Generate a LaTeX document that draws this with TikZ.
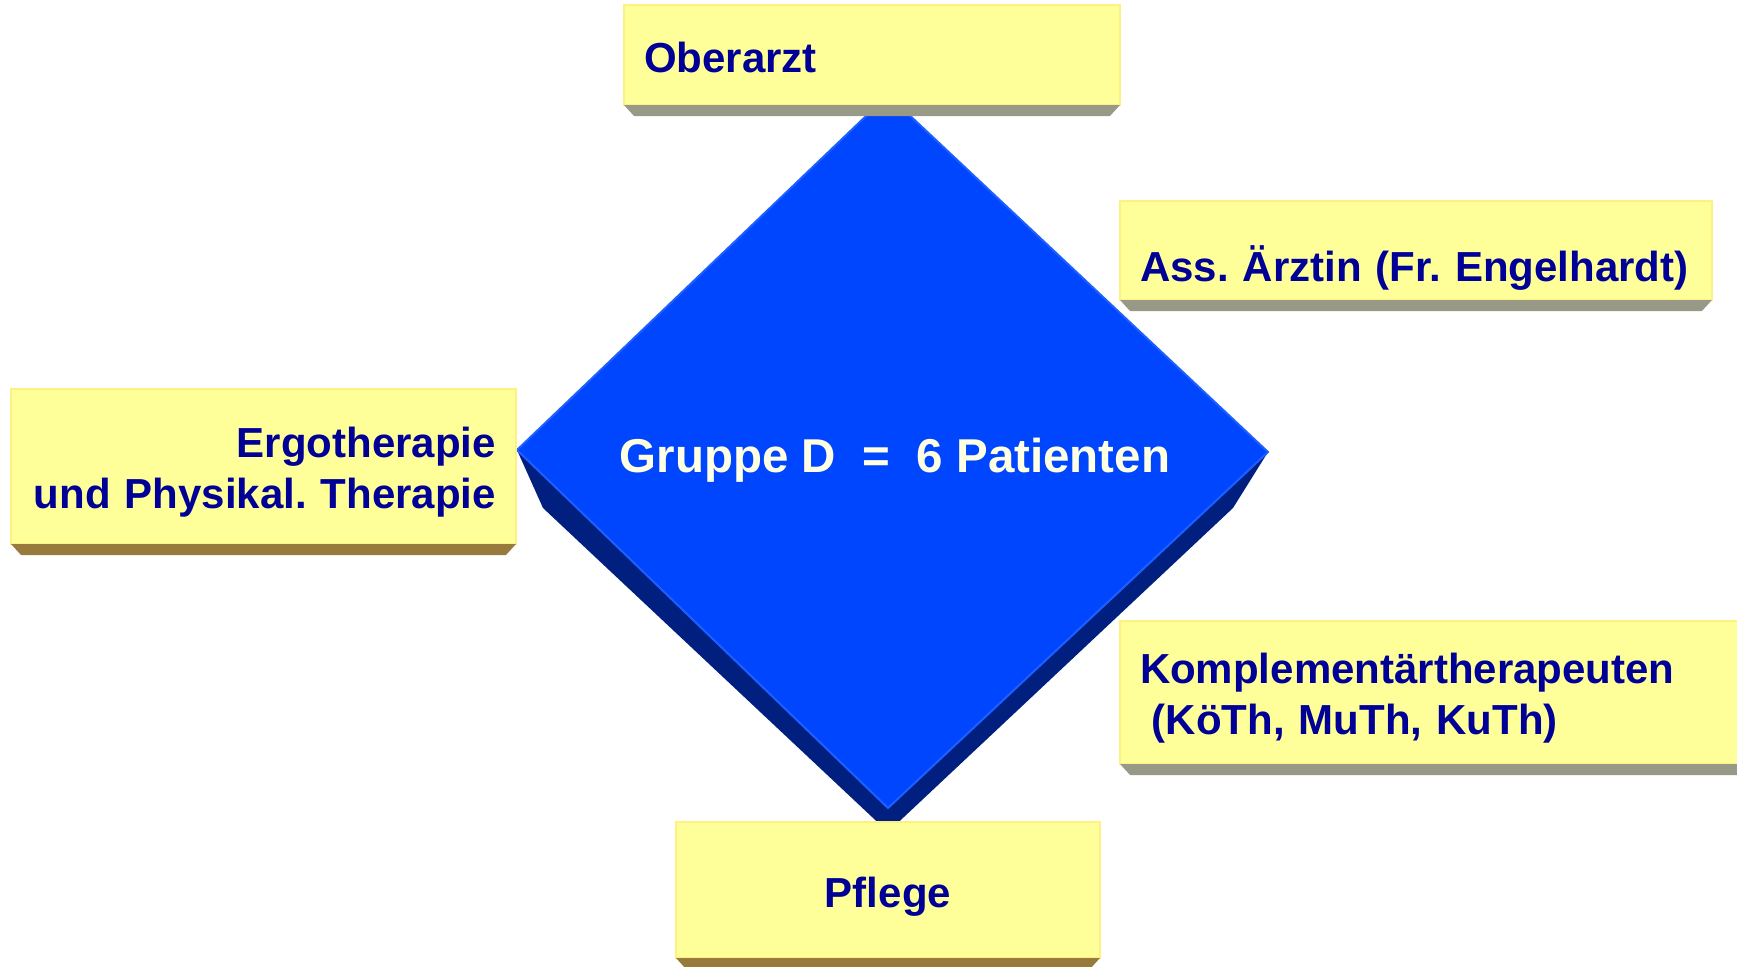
\documentclass[tikz,border=0pt]{standalone}
\usepackage{fontspec}
\setmainfont{Liberation Sans}
\usetikzlibrary{positioning}
\frenchspacing

\definecolor{boxfill}{RGB}{255,255,153}
\definecolor{boxline}{RGB}{255,240,130}
\definecolor{boxtext}{RGB}{0,0,150}
\definecolor{shgray}{RGB}{153,153,136}
\definecolor{shbrown}{RGB}{153,122,61}
\definecolor{facefill}{RGB}{0,70,255}
\definecolor{faceline}{RGB}{30,95,255}
\definecolor{sidefill}{RGB}{0,31,127}
\definecolor{cream}{RGB}{255,255,228}

\begin{document}
\begin{tikzpicture}[x=0.5pt, y=-0.5pt,
    box/.style={draw=boxline, line width=1pt, fill=boxfill, outer sep=0pt,
      inner xsep=10pt, inner ysep=0pt, anchor=north west, text=boxtext,
      font=\bfseries\fontsize{21}{25.5}\selectfont}]
    \useasboundingbox (0,0) rectangle (1737,966);

    % Raute
    \coordinate (ft) at (888,95);   \coordinate (fr) at (1268,452);
    \coordinate (fb) at (888,808);  \coordinate (fl) at (517,450);
    \coordinate (bl) at (543,508);  \coordinate (br) at (1233,508);
    \coordinate (bb) at (888,832);
    \fill[sidefill] (fl) -- (bl) -- (bb) -- (br) -- (fr) -- (fb) -- cycle;
    \filldraw[fill=facefill, draw=faceline, line width=1pt] (ft) -- (fr) -- (fb) -- (fl) -- cycle;
    \node[anchor=base, text=cream, font=\bfseries\fontsize{23.75}{28}\selectfont]
      (gruppe) at (895,472) {Gruppe D\ \ =\ \ 6 Patienten};

    \node[box, text width=228pt, text height=33.5pt, text depth=16.5pt, align=left] (ober) at (624,5) {Oberarzt};
    \node[box, text width=276pt, text height=40pt, text depth=9.5pt, align=left] (ass) at (1120,201)
      {Ass. Ärztin (Fr. Engelhardt)};
    \node[box, text width=232.5pt, text height=34pt, text depth=43.5pt, align=right] (ergo) at (11,389)
      {Ergotherapie\\und Physikal. Therapie};
    \node[box, text width=300pt, text height=31pt, text depth=40.5pt, align=left] (kompl) at (1120,621)
      {Komplementärtherapeuten\\\hspace*{.28em}(KöTh, MuTh, KuTh)};
    \node[box, text width=192pt, text height=42.5pt, text depth=25.5pt, align=center] (pflege) at (676,822) {Pflege};

    % Schatten
    \foreach \n/\c in {ober/shgray, ass/shgray, ergo/shbrown, kompl/shgray, pflege/shbrown}
      \fill[\c] (\n.south west) -- (\n.south east) -- ([shift={(-10,11)}]\n.south east)
        -- ([shift={(10,11)}]\n.south west) -- cycle;
\end{tikzpicture}
\end{document}
